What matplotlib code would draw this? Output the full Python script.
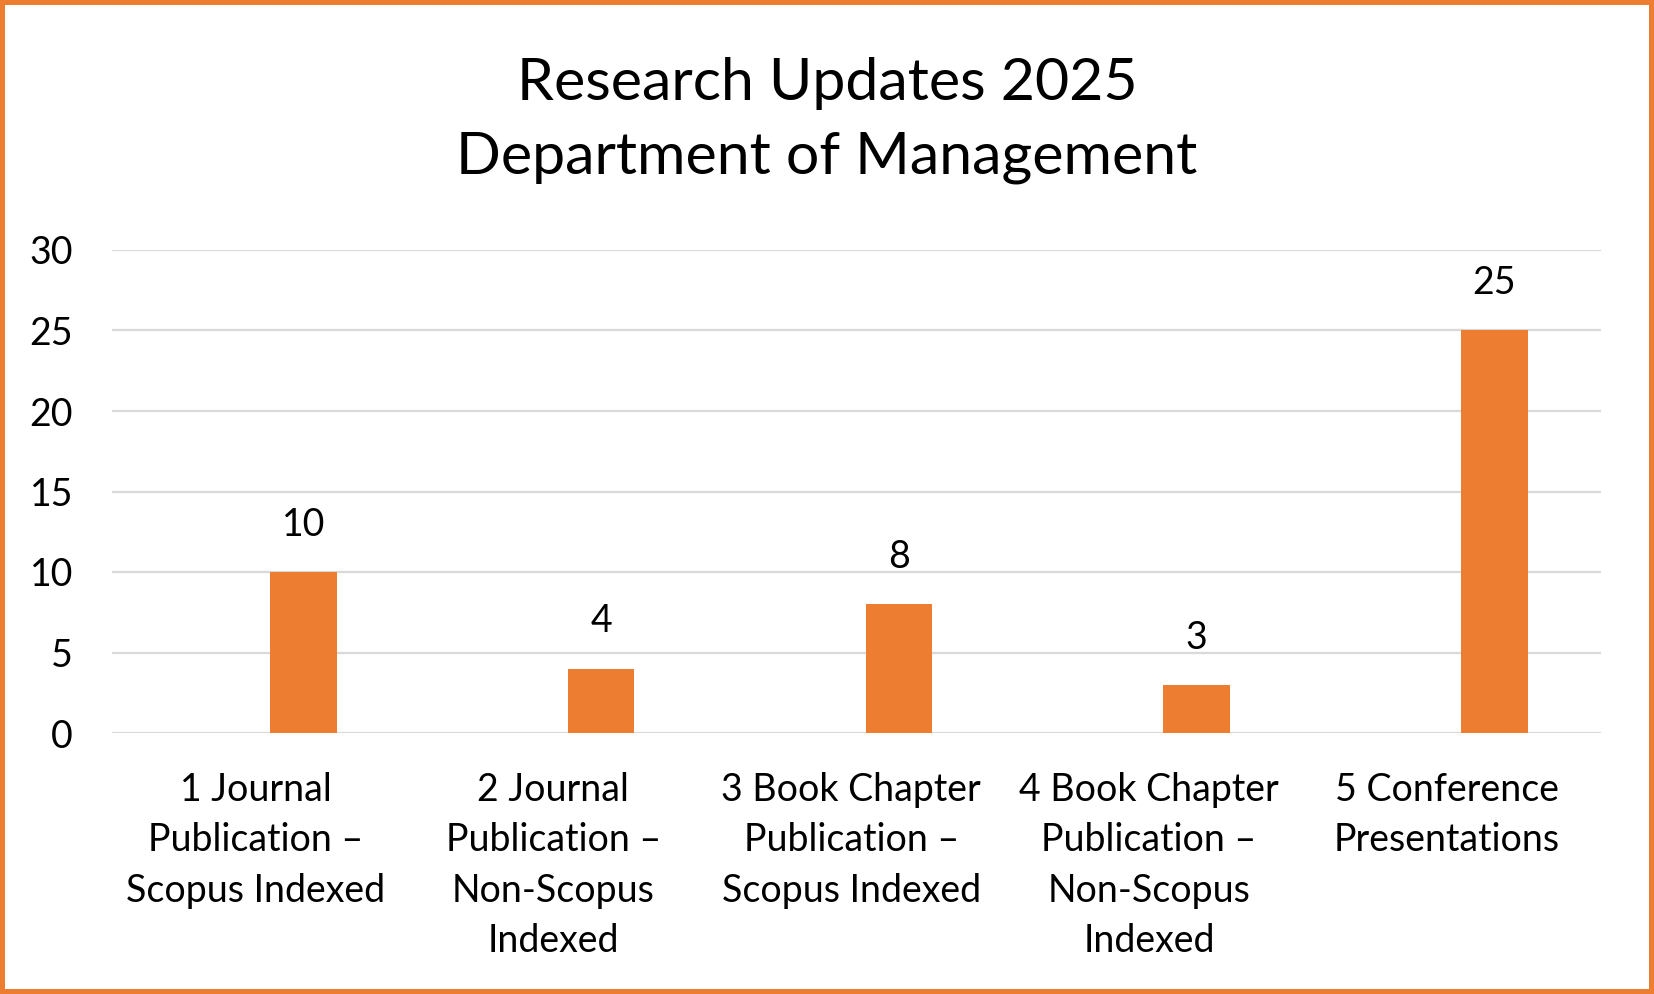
import matplotlib
matplotlib.use("Agg")
import matplotlib.pyplot as plt
import numpy as np
from matplotlib.patches import Rectangle

categories = [
    "1 Journal\nPublication –\nScopus Indexed",
    "2 Journal\nPublication –\nNon-Scopus\nIndexed",
    "3 Book Chapter\nPublication –\nScopus Indexed",
    "4 Book Chapter\nPublication –\nNon-Scopus\nIndexed",
    "5 Conference\nPresentations",
]
values = [10, 4, 8, 3, 25]
yticks = [0, 5, 10, 15, 20, 25, 30]
title_lines = ["Research Updates 2025", "Department of Management"]

ORANGE = "#ED7D31"
GRID = "#D9D9D9"
FONT = ["Lato", "DejaVu Sans"]
plt.rcParams["font.family"] = FONT

W, H = 1654, 994
fig = plt.figure(figsize=(W / 100, H / 100), dpi=100)
fig.patch.set_facecolor("white")

ax = fig.add_axes([112 / W, 1 - 733 / H, 1489 / W, (733 - 250) / H])
x = np.arange(len(values))
bars = ax.bar(x + 0.1425, values, width=0.224, color=ORANGE, zorder=3)
ax.set_xlim(-0.5, len(values) - 0.5)
ax.set_ylim(0, 30)
ax.set_yticks(yticks)
ax.set_yticklabels([str(t) for t in yticks], fontsize=27)
ax.set_xticks(x - 0.018)
ax.set_xticklabels(categories, fontsize=27, linespacing=1.50)
ax.tick_params(axis="both", length=0)
ax.tick_params(axis="y", pad=28)
ax.tick_params(axis="x", pad=28)
for s in ax.spines.values():
    s.set_visible(False)
ax.grid(axis="y", color=GRID, linewidth=1.6, zorder=0)
ax.set_axisbelow(True)
ax.bar_label(bars, labels=[str(v) for v in values], padding=21, fontsize=27)

fig.text(0.5, 1 - 100 / H, title_lines[0], ha="center", va="baseline", fontsize=42.5)
fig.text(0.5, 1 - 174 / H, title_lines[1], ha="center", va="baseline", fontsize=42.5)

fig.patches.append(Rectangle((0, 0), 1, 1, transform=fig.transFigure, fill=False,
                             edgecolor=ORANGE, linewidth=7.2, zorder=10))

fig.savefig("out.png", dpi=100)
